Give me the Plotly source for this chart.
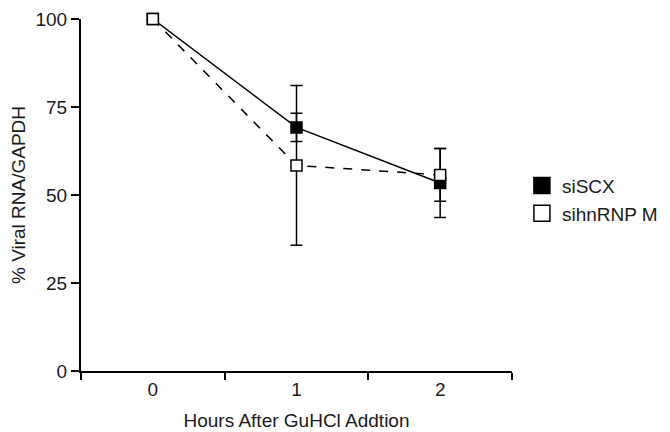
import plotly.graph_objects as go

hours = [0, 1, 2]
tick_labels = ["0", "1", "2"]
siSCX = [100, 69.2, 53.4]
siSCX_err = [0, 4, 9.8]
sihnRNP = [100, 58.4, 55.7]
sihnRNP_err = [0, 22.7, 7.5]

font = "Liberation Sans, Arial, Helvetica, sans-serif"
txt = "#1a1a1a"

fig = go.Figure()
fig.add_trace(go.Scatter(
    x=hours, y=siSCX, name="siSCX", mode="lines+markers", showlegend=False,
    line=dict(color="black", width=1.5),
    marker=dict(symbol="square", size=11, color="black", line=dict(color="black", width=1.5)),
    error_y=dict(type="data", array=siSCX_err, color="black", thickness=1.5, width=6),
    cliponaxis=False,
))
fig.add_trace(go.Scatter(
    x=hours, y=sihnRNP, name="sihnRNP M", mode="lines+markers", showlegend=False,
    line=dict(color="black", width=1.5, dash="dash"),
    marker=dict(symbol="square", size=11, color="white", line=dict(color="black", width=1.5)),
    error_y=dict(type="data", array=sihnRNP_err, color="black", thickness=1.5, width=6),
    cliponaxis=False,
))
# legend-only entries (markers only)
fig.add_trace(go.Scatter(
    x=[None], y=[None], name="siSCX", mode="markers",
    marker=dict(symbol="square", size=16, color="black", line=dict(color="black", width=1.5)),
))
fig.add_trace(go.Scatter(
    x=[None], y=[None], name="sihnRNP M", mode="markers",
    marker=dict(symbol="square", size=16, color="white", line=dict(color="black", width=1.5)),
))

fig.update_layout(
    width=670, height=432,
    margin=dict(l=73, r=166, t=11, b=69),
    paper_bgcolor="white", plot_bgcolor="white",
    font=dict(family=font, size=19, color=txt),
    showlegend=True,
    legend=dict(x=1.023, y=0.487, xanchor="left", yanchor="middle",
                font=dict(size=19, color=txt), itemsizing="trace",
                tracegroupgap=0, bgcolor="rgba(0,0,0,0)", itemwidth=30),
    xaxis=dict(
        range=[-0.5, 2.5], tickvals=hours, ticktext=tick_labels, ticks="",
        showline=True, linecolor="black", linewidth=2, showgrid=False, zeroline=False,
        tickfont=dict(size=19, color=txt), automargin=False,
        minor=dict(tickvals=[-0.5, 0.5, 1.5, 2.5], ticks="outside", ticklen=7,
                   tickwidth=2, tickcolor="black", showgrid=False),
        title=dict(text="Hours After GuHCl Addtion", font=dict(size=19, color=txt), standoff=15),
    ),
    yaxis=dict(
        range=[0, 100], tickvals=[0, 25, 50, 75, 100], ticks="outside", ticklen=8,
        tickwidth=2, tickcolor="black",
        showline=True, linecolor="black", linewidth=2, showgrid=False, zeroline=False,
        tickfont=dict(size=19, color=txt), automargin=False,
        title=dict(text="% Viral RNA/GAPDH", font=dict(size=19, color=txt), standoff=5),
    ),
)

fig.write_html("out.html")
